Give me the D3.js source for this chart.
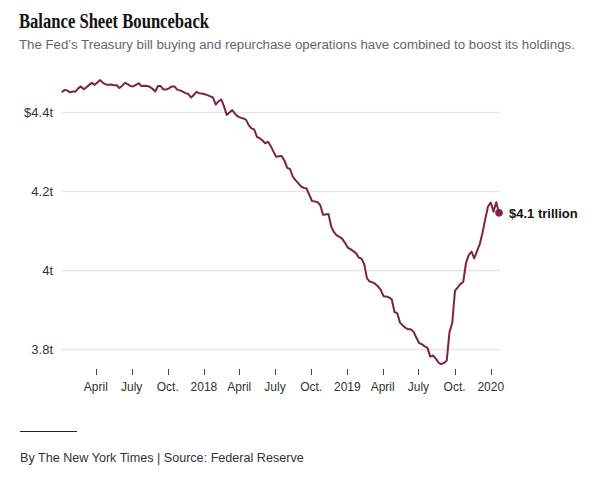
<!DOCTYPE html>
<html>
<head>
<meta charset="utf-8">
<script src="https://cdn.jsdelivr.net/npm/d3@7"></script>
<style>
  html, body { margin: 0; padding: 0; background: #fff; }
  svg { display: block; }
</style>
</head>
<body>
<svg id="chart" width="600" height="487"></svg>
<script>
// ---- Data (Fed balance sheet, trillions of dollars, weekly from Jan 4, 2017) ----
const startDate = new Date(2017, 0, 4);
const holdings = [
  4.451, 4.457, 4.456, 4.451, 4.453, 4.453, 4.461, 4.466, 4.459, 4.464,
  4.470, 4.475, 4.470, 4.476, 4.482, 4.475, 4.471, 4.470, 4.471, 4.469,
  4.469, 4.462, 4.468, 4.475, 4.472, 4.467, 4.466, 4.470, 4.474, 4.467,
  4.468, 4.467, 4.465, 4.460, 4.453, 4.467, 4.467, 4.458, 4.458, 4.461,
  4.466, 4.466, 4.458, 4.456, 4.453, 4.449, 4.447, 4.438, 4.444, 4.452,
  4.449, 4.448, 4.446, 4.444, 4.441, 4.438, 4.420, 4.428, 4.433, 4.416,
  4.394, 4.400, 4.406, 4.397, 4.390, 4.387, 4.385, 4.382, 4.368, 4.360,
  4.357, 4.338, 4.335, 4.329, 4.322, 4.326, 4.315, 4.301, 4.288, 4.289,
  4.290, 4.278, 4.260, 4.257, 4.238, 4.229, 4.221, 4.213, 4.209, 4.208,
  4.192, 4.176, 4.175, 4.173, 4.166, 4.141, 4.142, 4.143, 4.111, 4.097,
  4.089, 4.085, 4.080, 4.070, 4.058, 4.054, 4.049, 4.044, 4.033, 4.030,
  4.016, 3.980, 3.972, 3.970, 3.966, 3.960, 3.951, 3.935, 3.934, 3.932,
  3.927, 3.895, 3.892, 3.868, 3.861, 3.855, 3.851, 3.851, 3.844, 3.829,
  3.816, 3.813, 3.808, 3.804, 3.782, 3.785, 3.777, 3.767, 3.763, 3.766,
  3.772, 3.844, 3.867, 3.949, 3.957, 3.966, 3.971, 4.019, 4.039, 4.048,
  4.031, 4.049, 4.067, 4.095, 4.130, 4.162, 4.172, 4.149, 4.173, 4.146
];
const yTicks = [4.4, 4.2, 4.0, 3.8];
const yTickLabels = ["$4.4t", "4.2t", "4t", "3.8t"];
const xTickDates = [
  new Date(2017, 3, 1), new Date(2017, 6, 1), new Date(2017, 9, 1),
  new Date(2018, 0, 1), new Date(2018, 3, 1), new Date(2018, 6, 1), new Date(2018, 9, 1),
  new Date(2019, 0, 1), new Date(2019, 3, 1), new Date(2019, 6, 1), new Date(2019, 9, 1),
  new Date(2020, 0, 1)
];
const xTickLabels = ["April", "July", "Oct.", "2018", "April", "July", "Oct.", "2019", "April", "July", "Oct.", "2020"];
const endLabel = "$4.1 trillion";
const titleText = "Balance Sheet Bounceback";
const subtitleText = "The Fed\u2019s Treasury bill buying and repurchase operations have combined to boost its holdings.";
const footerText = "By The New York Times | Source: Federal Reserve";

// ---- Build ----
const data = holdings.map((v, i) => ({ date: d3.timeDay.offset(startDate, 7 * i), value: v }));
const svg = d3.select("#chart");
const sans = "'Liberation Sans', Arial, Helvetica, sans-serif";
const lineColor = "#7d2248";

const x = d3.scaleTime()
  .domain([data[0].date, data[data.length - 1].date])
  .range([61.7, 499]);
const y = d3.scaleLinear().domain([3.8, 4.4]).range([349.5, 112.5]);

svg.append("rect").attr("width", 600).attr("height", 487).attr("fill", "#fff");

// Title & subtitle
svg.append("text")
  .attr("x", 19).attr("y", 28)
  .attr("font-family", "'Liberation Serif', 'DejaVu Serif', serif")
  .attr("font-weight", "bold")
  .attr("font-size", 20.5)
  .attr("textLength", 190).attr("lengthAdjust", "spacingAndGlyphs")
  .attr("fill", "#121212")
  .text(titleText);
svg.append("text")
  .attr("x", 19).attr("y", 49)
  .attr("font-family", sans)
  .attr("font-size", 13.25)
  .attr("fill", "#666")
  .text(subtitleText);

// Gridlines + y labels
const yAxis = svg.append("g");
yAxis.selectAll("line").data(yTicks).join("line")
  .attr("x1", 62).attr("x2", 500)
  .attr("y1", d => y(d)).attr("y2", d => y(d))
  .attr("stroke", "#e6e6e6").attr("stroke-width", 1.3);
yAxis.selectAll("text").data(yTicks).join("text")
  .attr("x", 53).attr("y", d => y(d) + 4.5)
  .attr("text-anchor", "end")
  .attr("font-family", sans).attr("font-size", 13)
  .attr("fill", "#333")
  .text((d, i) => yTickLabels[i]);

// X axis ticks + labels
const xAxis = svg.append("g");
xAxis.selectAll("line").data(xTickDates).join("line")
  .attr("x1", d => Math.round(x(d)) + 0.5).attr("x2", d => Math.round(x(d)) + 0.5)
  .attr("y1", 369).attr("y2", 375)
  .attr("stroke", "#444").attr("stroke-width", 1);
xAxis.selectAll("text").data(xTickDates).join("text")
  .attr("x", d => x(d)).attr("y", 391)
  .attr("text-anchor", "middle")
  .attr("font-family", sans).attr("font-size", 12)
  .attr("fill", "#333")
  .text((d, i) => xTickLabels[i]);

// Line
const line = d3.line().x(d => x(d.date)).y(d => y(d.value));
svg.append("path")
  .datum(data)
  .attr("d", line)
  .attr("fill", "none")
  .attr("stroke", lineColor)
  .attr("stroke-width", 2)
  .attr("stroke-linejoin", "round");

// End dot + label
const last = data[data.length - 1];
svg.append("circle")
  .attr("cx", x(last.date)).attr("cy", y(last.value)).attr("r", 3.8)
  .attr("fill", lineColor);
svg.append("text")
  .attr("x", 509).attr("y", y(last.value) + 5)
  .attr("font-family", sans)
  .attr("font-weight", "bold").attr("font-size", 13)
  .attr("fill", "#111")
  .text(endLabel);

// Footer
svg.append("line")
  .attr("x1", 20).attr("x2", 77).attr("y1", 431.5).attr("y2", 431.5)
  .attr("stroke", "#222").attr("stroke-width", 1);
svg.append("text")
  .attr("x", 20).attr("y", 462)
  .attr("font-family", sans).attr("font-size", 12.6)
  .attr("fill", "#333")
  .text(footerText);
</script>
</body>
</html>
